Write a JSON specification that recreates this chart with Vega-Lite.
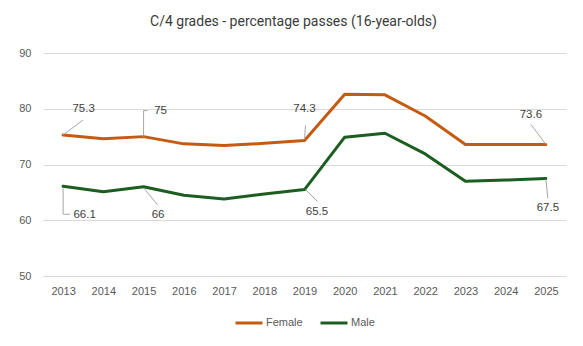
{
  "$schema": "https://vega.github.io/schema/vega-lite/v6.json",
  "autosize": "none",
  "width": 523,
  "height": 223,
  "padding": {"left": 43, "top": 53, "right": 17, "bottom": 70},
  "background": "white",
  "title": {
    "text": "C/4 grades - percentage passes (16-year-olds)",
    "font": "Roboto",
    "fontSize": 14,
    "fontWeight": "normal",
    "color": "#3B3B3B",
    "anchor": "middle",
    "dx": -11,
    "offset": 18
  },
  "config": {
    "view": {"stroke": null},
    "axis": {
      "labelFont": "Liberation Sans",
      "labelFontSize": 11,
      "labelColor": "#595959",
      "ticks": false,
      "title": null,
      "gridColor": "#D9D9D9",
      "gridWidth": 1
    },
    "legend": {
      "labelFont": "Liberation Sans",
      "labelFontSize": 11,
      "labelColor": "#595959"
    }
  },
  "data": {
    "values": [
      {"year": "2013", "sex": "Female", "value": 75.3},
      {"year": "2014", "sex": "Female", "value": 74.6},
      {"year": "2015", "sex": "Female", "value": 75},
      {"year": "2016", "sex": "Female", "value": 73.7},
      {"year": "2017", "sex": "Female", "value": 73.4},
      {"year": "2018", "sex": "Female", "value": 73.8},
      {"year": "2019", "sex": "Female", "value": 74.3},
      {"year": "2020", "sex": "Female", "value": 82.6},
      {"year": "2021", "sex": "Female", "value": 82.5},
      {"year": "2022", "sex": "Female", "value": 78.7},
      {"year": "2023", "sex": "Female", "value": 73.6},
      {"year": "2024", "sex": "Female", "value": 73.6},
      {"year": "2025", "sex": "Female", "value": 73.6},
      {"year": "2013", "sex": "Male", "value": 66.1},
      {"year": "2014", "sex": "Male", "value": 65.1},
      {"year": "2015", "sex": "Male", "value": 66},
      {"year": "2016", "sex": "Male", "value": 64.5},
      {"year": "2017", "sex": "Male", "value": 63.8},
      {"year": "2018", "sex": "Male", "value": 64.7},
      {"year": "2019", "sex": "Male", "value": 65.5},
      {"year": "2020", "sex": "Male", "value": 74.9},
      {"year": "2021", "sex": "Male", "value": 75.6},
      {"year": "2022", "sex": "Male", "value": 71.9},
      {"year": "2023", "sex": "Male", "value": 67},
      {"year": "2024", "sex": "Male", "value": 67.2},
      {"year": "2025", "sex": "Male", "value": 67.5}
    ]
  },
  "encoding": {
    "x": {
      "field": "year",
      "type": "ordinal",
      "scale": {"type": "point", "padding": 0.5},
      "axis": {"labelAngle": 0, "labelPadding": 9, "domain": false, "grid": false}
    },
    "y": {
      "field": "value",
      "type": "quantitative",
      "scale": {"domain": [50, 90], "nice": false, "zero": false},
      "axis": {"values": [50, 60, 70, 80, 90], "labelPadding": 12, "domain": false, "grid": true}
    }
  },
  "layer": [
    {
      "mark": {"type": "line", "strokeWidth": 3, "strokeJoin": "round", "strokeCap": "round"},
      "encoding": {
        "color": {
          "field": "sex",
          "type": "nominal",
          "scale": {"domain": ["Female", "Male"], "range": ["#C55A11", "#1B5E20"]},
          "legend": {
            "title": null,
            "orient": "none",
            "legendX": 191,
            "legendY": 255,
            "direction": "horizontal",
            "symbolType": "stroke",
            "symbolSize": 729,
            "symbolStrokeWidth": 3,
            "labelOffset": 2,
            "columnPadding": 11
          }
        }
      }
    },
    {
      "transform": [{"filter": "datum.sex == 'Female' && datum.year == '2013'"}],
      "mark": {"type": "rule", "color": "#A6A6A6", "strokeWidth": 1, "x2Offset": 20, "y2Offset": -15},
      "encoding": {"x2": {"field": "year"}, "y2": {"field": "value"}}
    },
    {
      "transform": [{"filter": "datum.sex == 'Female' && datum.year == '2015'"}],
      "mark": {"type": "rule", "color": "#A6A6A6", "strokeWidth": 1, "y2Offset": -26},
      "encoding": {"x2": {"field": "year"}, "y2": {"field": "value"}}
    },
    {
      "transform": [{"filter": "datum.sex == 'Female' && datum.year == '2015'"}],
      "mark": {"type": "rule", "color": "#A6A6A6", "strokeWidth": 1, "yOffset": -26, "x2Offset": 4, "y2Offset": -26},
      "encoding": {"x2": {"field": "year"}, "y2": {"field": "value"}}
    },
    {
      "transform": [{"filter": "datum.sex == 'Female' && datum.year == '2019'"}],
      "mark": {"type": "rule", "color": "#A6A6A6", "strokeWidth": 1, "yOffset": -1, "x2Offset": 1, "y2Offset": -15},
      "encoding": {"x2": {"field": "year"}, "y2": {"field": "value"}}
    },
    {
      "transform": [{"filter": "datum.sex == 'Female' && datum.year == '2025'"}],
      "mark": {"type": "rule", "color": "#A6A6A6", "strokeWidth": 1, "x2Offset": -15, "y2Offset": -20},
      "encoding": {"x2": {"field": "year"}, "y2": {"field": "value"}}
    },
    {
      "transform": [{"filter": "datum.sex == 'Male' && datum.year == '2013'"}],
      "mark": {"type": "rule", "color": "#A6A6A6", "strokeWidth": 1, "yOffset": 2, "y2Offset": 28},
      "encoding": {"x2": {"field": "year"}, "y2": {"field": "value"}}
    },
    {
      "transform": [{"filter": "datum.sex == 'Male' && datum.year == '2013'"}],
      "mark": {"type": "rule", "color": "#A6A6A6", "strokeWidth": 1, "yOffset": 28, "x2Offset": 7, "y2Offset": 28},
      "encoding": {"x2": {"field": "year"}, "y2": {"field": "value"}}
    },
    {
      "transform": [{"filter": "datum.sex == 'Male' && datum.year == '2015'"}],
      "mark": {"type": "rule", "color": "#A6A6A6", "strokeWidth": 1, "yOffset": 1, "x2Offset": 14, "y2Offset": 18},
      "encoding": {"x2": {"field": "year"}, "y2": {"field": "value"}}
    },
    {
      "transform": [{"filter": "datum.sex == 'Male' && datum.year == '2019'"}],
      "mark": {"type": "rule", "color": "#A6A6A6", "strokeWidth": 1, "xOffset": 1, "x2Offset": 13, "y2Offset": 12},
      "encoding": {"x2": {"field": "year"}, "y2": {"field": "value"}}
    },
    {
      "transform": [{"filter": "datum.sex == 'Male' && datum.year == '2025'"}],
      "mark": {"type": "rule", "color": "#A6A6A6", "strokeWidth": 1, "yOffset": 1, "x2Offset": 2, "y2Offset": 20},
      "encoding": {"x2": {"field": "year"}, "y2": {"field": "value"}}
    },
    {
      "transform": [{"filter": "datum.sex == 'Female' && datum.year == '2013'"}],
      "mark": {"type": "text", "font": "Liberation Sans", "fontSize": 11.5, "color": "#404040", "baseline": "middle", "align": "center", "dx": 20.5, "dy": -26},
      "encoding": {"text": {"field": "value", "type": "nominal"}}
    },
    {
      "transform": [{"filter": "datum.sex == 'Female' && datum.year == '2015'"}],
      "mark": {"type": "text", "font": "Liberation Sans", "fontSize": 11.5, "color": "#404040", "baseline": "middle", "align": "center", "dx": 17, "dy": -26},
      "encoding": {"text": {"field": "value", "type": "nominal"}}
    },
    {
      "transform": [{"filter": "datum.sex == 'Female' && datum.year == '2019'"}],
      "mark": {"type": "text", "font": "Liberation Sans", "fontSize": 11.5, "color": "#404040", "baseline": "middle", "align": "center", "dx": 0, "dy": -32},
      "encoding": {"text": {"field": "value", "type": "nominal"}}
    },
    {
      "transform": [{"filter": "datum.sex == 'Female' && datum.year == '2025'"}],
      "mark": {"type": "text", "font": "Liberation Sans", "fontSize": 11.5, "color": "#404040", "baseline": "middle", "align": "center", "dx": -15, "dy": -29},
      "encoding": {"text": {"field": "value", "type": "nominal"}}
    },
    {
      "transform": [{"filter": "datum.sex == 'Male' && datum.year == '2013'"}],
      "mark": {"type": "text", "font": "Liberation Sans", "fontSize": 11.5, "color": "#404040", "baseline": "middle", "align": "center", "dx": 21.5, "dy": 29},
      "encoding": {"text": {"field": "value", "type": "nominal"}}
    },
    {
      "transform": [{"filter": "datum.sex == 'Male' && datum.year == '2015'"}],
      "mark": {"type": "text", "font": "Liberation Sans", "fontSize": 11.5, "color": "#404040", "baseline": "middle", "align": "center", "dx": 14.5, "dy": 28.5},
      "encoding": {"text": {"field": "value", "type": "nominal"}}
    },
    {
      "transform": [{"filter": "datum.sex == 'Male' && datum.year == '2019'"}],
      "mark": {"type": "text", "font": "Liberation Sans", "fontSize": 11.5, "color": "#404040", "baseline": "middle", "align": "center", "dx": 12.5, "dy": 22},
      "encoding": {"text": {"field": "value", "type": "nominal"}}
    },
    {
      "transform": [{"filter": "datum.sex == 'Male' && datum.year == '2025'"}],
      "mark": {"type": "text", "font": "Liberation Sans", "fontSize": 11.5, "color": "#404040", "baseline": "middle", "align": "center", "dx": 2, "dy": 30},
      "encoding": {"text": {"field": "value", "type": "nominal"}}
    }
  ]
}
